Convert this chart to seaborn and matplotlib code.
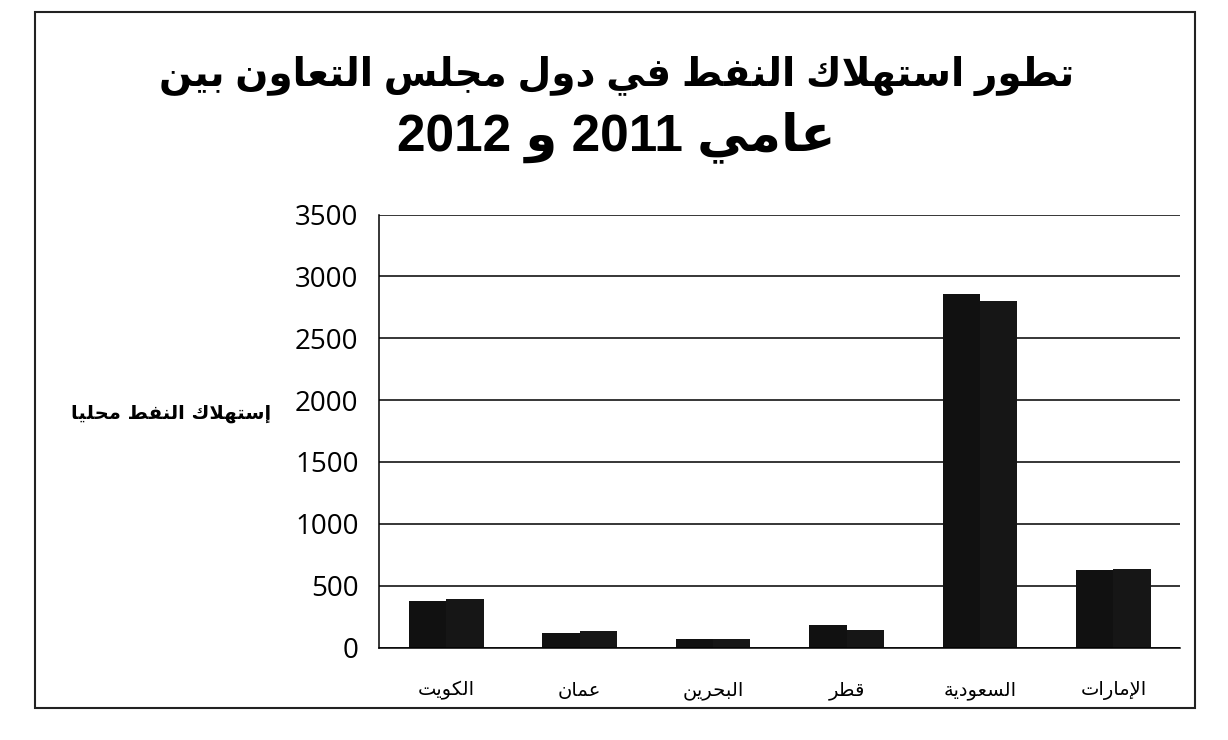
import re
import pandas as pd
import seaborn as sns
import matplotlib.pyplot as plt
from matplotlib.patches import Rectangle

# data (thousand barrels / day, roughly)
countries = ['الكويت', 'عمان', 'البحرين', 'قطر', 'السعودية', 'الإمارات']
years = ['2011', '2012']
values_2011 = [375, 120, 72, 185, 2860, 630]
values_2012 = [390, 135, 68, 140, 2805, 635]
yticks = [0, 500, 1000, 1500, 2000, 2500, 3000, 3500]

title_1 = 'تطور استهلاك النفط في دول مجلس التعاون بين'
title_2 = 'عامي 2011 و 2012'
ylabel = 'إستهلاك النفط محليا'

# --- tiny arabic shaper: matplotlib has no shaping / bidi, so map to presentation forms
FORMS = {
    'ا': ('\uFE8D', '\uFE8E', None, None), 'إ': ('\uFE87', '\uFE88', None, None),
    'ب': ('\uFE8F', '\uFE90', '\uFE91', '\uFE92'), 'ة': ('\uFE93', '\uFE94', None, None),
    'ت': ('\uFE95', '\uFE96', '\uFE97', '\uFE98'), 'ج': ('\uFE9D', '\uFE9E', '\uFE9F', '\uFEA0'),
    'ح': ('\uFEA1', '\uFEA2', '\uFEA3', '\uFEA4'), 'د': ('\uFEA9', '\uFEAA', None, None),
    'ر': ('\uFEAD', '\uFEAE', None, None), 'س': ('\uFEB1', '\uFEB2', '\uFEB3', '\uFEB4'),
    'ط': ('\uFEC1', '\uFEC2', '\uFEC3', '\uFEC4'), 'ع': ('\uFEC9', '\uFECA', '\uFECB', '\uFECC'),
    'ف': ('\uFED1', '\uFED2', '\uFED3', '\uFED4'), 'ق': ('\uFED5', '\uFED6', '\uFED7', '\uFED8'),
    'ك': ('\uFED9', '\uFEDA', '\uFEDB', '\uFEDC'), 'ل': ('\uFEDD', '\uFEDE', '\uFEDF', '\uFEE0'),
    'م': ('\uFEE1', '\uFEE2', '\uFEE3', '\uFEE4'), 'ن': ('\uFEE5', '\uFEE6', '\uFEE7', '\uFEE8'),
    'ه': ('\uFEE9', '\uFEEA', '\uFEEB', '\uFEEC'), 'و': ('\uFEED', '\uFEEE', None, None),
    'ي': ('\uFEF1', '\uFEF2', '\uFEF3', '\uFEF4'),
    'لا': ('\uFEFB', '\uFEFC', None, None), 'لإ': ('\uFEF9', '\uFEFA', None, None),
}


def ar(text):
    toks = []
    i = 0
    while i < len(text):
        if text[i] == 'ل' and i + 1 < len(text) and text[i + 1] in 'اإ':
            toks.append(text[i:i + 2])
            i += 2
        else:
            toks.append(text[i])
            i += 1
    out = []
    for k, t in enumerate(toks):
        if t not in FORMS:
            out.append(t)
            continue
        f = FORMS[t]
        prev = k > 0 and toks[k - 1] in FORMS and FORMS[toks[k - 1]][2] is not None
        nxt = f[2] is not None and k + 1 < len(toks) and toks[k + 1] in FORMS
        if prev and nxt:
            out.append(f[3])
        elif prev:
            out.append(f[1])
        elif nxt:
            out.append(f[2])
        else:
            out.append(f[0])
    shaped = ''.join(out)
    parts = re.findall(r'[0-9]+|.', shaped)
    return ''.join(reversed(parts))


df = pd.DataFrame({
    'country': countries * 2,
    'year': [years[0]] * len(countries) + [years[1]] * len(countries),
    'value': values_2011 + values_2012,
})

sns.set_style('white')
plt.rcParams['font.family'] = ['Liberation Sans', 'DejaVu Sans']
plt.rcParams['text.color'] = 'black'
plt.rcParams['axes.labelcolor'] = 'black'
plt.rcParams['xtick.color'] = 'black'
plt.rcParams['ytick.color'] = 'black'

fig = plt.figure(figsize=(12.28, 7.4), dpi=100)
ax = fig.add_axes([0.309, 0.125, 0.652, 0.585])

sns.barplot(data=df, x='country', y='value', hue='year', order=countries,
            palette=['#111111', '#161616'], width=0.56, legend=False,
            saturation=1, linewidth=0, edgecolor='none', ax=ax)

ax.set_ylim(0, 3500)
ax.set_xlim(-0.5, len(countries) - 0.5)
ax.set_yticks(yticks)
ax.set_yticklabels([str(v) for v in yticks], fontsize=20, family=['Open Sans', 'DejaVu Sans'])
ax.set_xticks(range(len(countries)))
ax.set_xticklabels([ar(c) for c in countries], fontsize=14, family=['DejaVu Sans'])
ax.set_xticks([i + 0.5 for i in range(-1, len(countries))], minor=True)
ax.tick_params(axis='x', which='major', length=0, pad=24)
ax.tick_params(axis='x', which='minor', length=7, width=1, color='black', direction='out')
ax.tick_params(axis='y', length=5, width=1, color='black', direction='out', pad=10)

ax.yaxis.grid(True, color='black', linewidth=1.1)
ax.set_axisbelow(True)
for s in ['top', 'right']:
    ax.spines[s].set_visible(False)
for s in ['left', 'bottom']:
    ax.spines[s].set_color('black')
    ax.spines[s].set_linewidth(1.1)

ax.set_xlabel('')
ax.set_ylabel(ar(ylabel), rotation=0, ha='right', va='center', color='black',
              fontsize=14, fontweight='bold', family=['DejaVu Sans'])
ax.yaxis.set_label_coords(-0.135, 0.54)

fig.text(0.502, 0.897, ar(title_1), ha='center', va='center',
         fontsize=28, fontweight='bold')
fig.text(0.502, 0.815, ar(title_2), ha='center', va='center',
         fontsize=37, fontweight='bold')

fig.patches.append(Rectangle((0.0285, 0.043), 0.9446, 0.9405, transform=fig.transFigure,
                             fill=False, edgecolor='#222222', linewidth=1.5))

fig.savefig('out.png', dpi=100, facecolor='white')
